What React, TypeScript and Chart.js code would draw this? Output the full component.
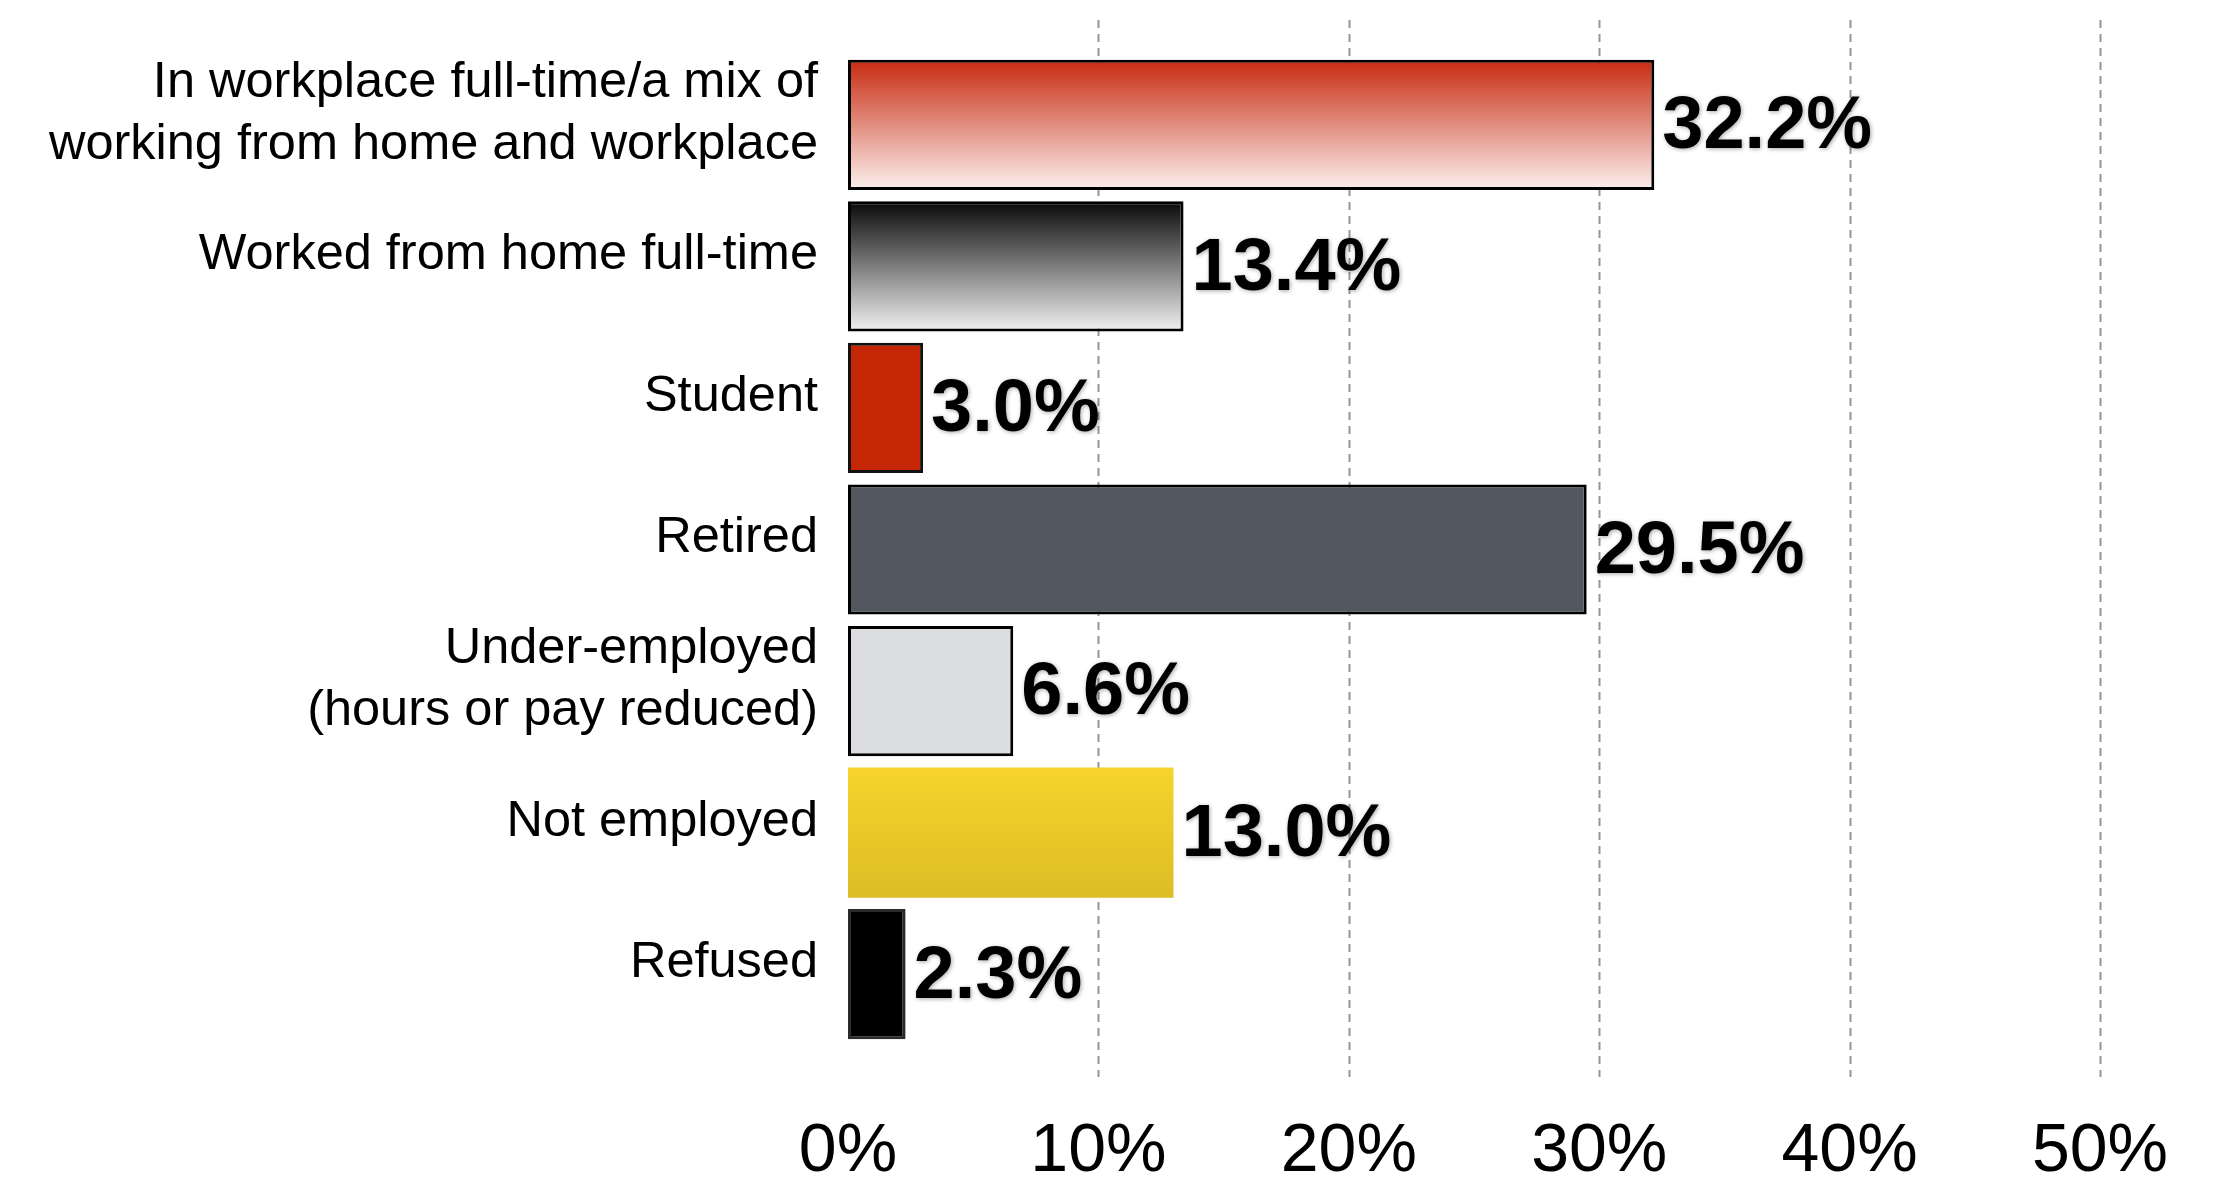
import React, { useEffect, useRef } from "react";
import { Chart, registerables } from "chart.js";

Chart.register(...registerables);

const categories: (string | string[])[] = [
  ["In workplace full-time/a mix of", "working from home and workplace"],
  "Worked from home full-time",
  "Student",
  "Retired",
  ["Under-employed", "(hours or pay reduced)"],
  "Not employed",
  "Refused",
];

const shares = [32.2, 13.4, 3.0, 29.5, 6.6, 13.0, 2.3];

const xTicks = [0, 10, 20, 30, 40, 50];

// fill descriptions: [top colour, bottom colour]
const fillStops: [string, string][] = [
  ["#c82a10", "#fcf1ef"],
  ["#080808", "#f2f2f2"],
  ["#c42606", "#c42606"],
  ["#535760", "#535760"],
  ["#dcdddf", "#dcdddf"],
  ["#f6d42c", "#dcbd24"],
  ["#000000", "#000000"],
];

const borderColors = ["#000000", "#000000", "#111111", "#000000", "#000000", "rgba(0,0,0,0)", "#2a2a2a"];
const borderWidths = [3, 3, 3, 3, 3, 0, 3];

const FONT = "'Liberation Sans', Arial, Helvetica, sans-serif";
const BAR_PCT = 0.92;

const gridPlugin = {
  id: "extGrid",
  beforeDatasetsDraw(chart: any) {
    const { ctx, chartArea, scales } = chart;
    const xs = scales.x;
    ctx.save();
    ctx.strokeStyle = "#959595";
    ctx.lineWidth = 2;
    ctx.setLineDash([8, 6]);
    xTicks.forEach((v) => {
      if (v === 0) return;
      const px = Math.round(xs.getPixelForValue(v)) + 0.5;
      ctx.beginPath();
      ctx.moveTo(px, chartArea.top - 34);
      ctx.lineTo(px, chartArea.bottom + 32);
      ctx.stroke();
    });
    ctx.restore();
  },
};

const valuePlugin = {
  id: "valueLabels",
  afterDatasetsDraw(chart: any) {
    const { ctx } = chart;
    const meta = chart.getDatasetMeta(0);
    ctx.save();
    ctx.font = `bold 74px ${FONT}`;
    ctx.fillStyle = "#000";
    ctx.textAlign = "left";
    ctx.textBaseline = "middle";
    ctx.shadowColor = "rgba(0,0,0,0.35)";
    ctx.shadowBlur = 4;
    ctx.shadowOffsetX = 1;
    ctx.shadowOffsetY = 1;
    meta.data.forEach((bar: any, i: number) => {
      ctx.fillText(shares[i].toFixed(1) + "%", bar.x + 8, bar.y + 3);
    });
    ctx.restore();
  },
};

export default function App() {
  const ref = useRef<HTMLCanvasElement | null>(null);

  useEffect(() => {
    const canvas = ref.current;
    if (!canvas) return;

    const bg = (c: any) => {
      const chart = c.chart;
      const i = c.dataIndex;
      const stops = fillStops[i];
      if (!stops) return "#000";
      if (stops[0] === stops[1]) return stops[0];
      const ys = chart.scales && chart.scales.y;
      const area = chart.chartArea;
      if (!ys || !area) return stops[0];
      const cy = ys.getPixelForValue(i);
      const h = ((area.bottom - area.top) / categories.length) * BAR_PCT;
      if (!isFinite(cy) || !isFinite(h)) return stops[0];
      const g = chart.ctx.createLinearGradient(0, cy - h / 2, 0, cy + h / 2);
      g.addColorStop(0, stops[0]);
      g.addColorStop(1, stops[1]);
      return g;
    };

    const chart = new Chart(canvas, {
      type: "bar",
      data: {
        labels: categories,
        datasets: [
          {
            data: shares,
            backgroundColor: bg,
            borderColor: borderColors,
            borderWidth: borderWidths,
            borderSkipped: false,
            barPercentage: BAR_PCT,
            categoryPercentage: 1,
          },
        ],
      },
      options: {
        indexAxis: "y",
        animation: false,
        responsive: false,
        maintainAspectRatio: false,
        layout: { padding: { top: 46, right: 108, left: 0, bottom: 0 } },
        plugins: { legend: { display: false }, tooltip: { enabled: false } },
        scales: {
          x: {
            min: 0,
            max: 50,
            border: { display: false },
            grid: { display: false, drawTicks: false },
            afterFit: (s: any) => {
              s.height = 128;
              s.paddingLeft = 0;
              s.paddingRight = 0;
            },
            afterBuildTicks: (s: any) => {
              s.ticks = xTicks.map((v) => ({ value: v }));
            },
            ticks: {
              padding: 66,
              color: "#000",
              maxRotation: 0,
              font: { family: FONT, size: 68 },
              callback: (v: any) => `${v}%`,
            },
          },
          y: {
            border: { display: false },
            grid: { display: false, drawTicks: false },
            afterFit: (s: any) => {
              s.width = 840;
              s.paddingTop = 0;
              s.paddingBottom = 0;
            },
            ticks: {
              padding: 30,
              labelOffset: -11,
              color: "#000",
              font: { family: FONT, size: 50.5, lineHeight: 1.22 },
            },
          },
        },
      },
      plugins: [gridPlugin, valuePlugin],
    });

    return () => chart.destroy();
  }, []);

  return (
    <div style={{ width: 2200, height: 1165 }}>
      <canvas ref={ref} width={2200} height={1165} style={{ display: "block" }} />
    </div>
  );
}
